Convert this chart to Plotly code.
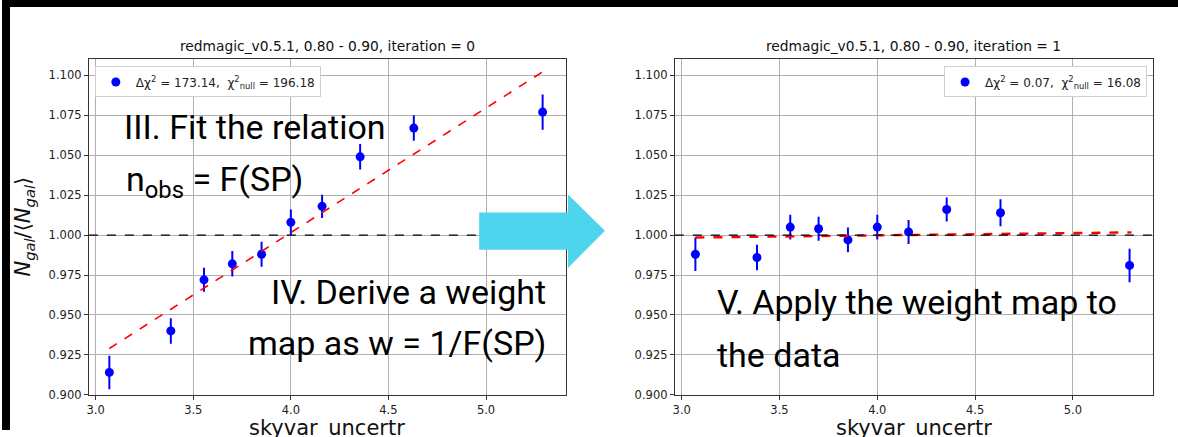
import plotly.graph_objects as go

W, H = 1178, 437

# ---- data ----
x_vals = [3.07, 3.385, 3.555, 3.70, 3.85, 4.0, 4.16, 4.355, 4.63, 5.29]
y_iter0 = [0.914, 0.940, 0.972, 0.982, 0.988, 1.008, 1.018, 1.049, 1.067, 1.077]
err_iter0 = [0.0105, 0.008, 0.0075, 0.008, 0.0078, 0.008, 0.0073, 0.008, 0.008, 0.011]
y_iter1 = [0.988, 0.986, 1.005, 1.004, 0.997, 1.005, 1.002, 1.016, 1.014, 0.981]
err_iter1 = [0.0105, 0.008, 0.0078, 0.0075, 0.0078, 0.0078, 0.0075, 0.0075, 0.0085, 0.0105]
fit0_x = [3.07, 5.30]
fit0_y = [0.929, 1.103]
fit1_x = [3.07, 5.30]
fit1_y = [0.9985, 1.0017]
titles = ["redmagic_v0.5.1, 0.80 - 0.90, iteration = 0",
          "redmagic_v0.5.1, 0.80 - 0.90, iteration = 1"]
legend_texts = ["Δχ<sup>2</sup> = 173.14,  χ<sup>2</sup><sub>null</sub> = 196.18",
                "Δχ<sup>2</sup> = 0.07,  χ<sup>2</sup><sub>null</sub> = 16.08"]
x_ticks = [3.0, 3.5, 4.0, 4.5, 5.0]
y_ticks = [0.900, 0.925, 0.950, 0.975, 1.000, 1.025, 1.050, 1.075, 1.100]

K = 0.977  # vertical calibration

def px(x):
    return x / W

def py(y):
    return 1 - (y / K) / H

TICKFONT = dict(family="DejaVu Sans", size=11.5, color="#222")
BLUE = "#0000ff"

fig = go.Figure()

for i, (yv, ev, fx, fy, leg) in enumerate([
        (y_iter0, err_iter0, fit0_x, fit0_y, "legend"),
        (y_iter1, err_iter1, fit1_x, fit1_y, "legend2")]):
    xa = "x" if i == 0 else "x2"
    ya = "y" if i == 0 else "y2"
    fig.add_trace(go.Scatter(
        x=x_vals, y=yv, mode="markers", xaxis=xa, yaxis=ya,
        marker=dict(color=BLUE, size=9),
        error_y=dict(type="data", array=ev, color=BLUE, thickness=2, width=0),
        name=legend_texts[i], legend=leg, showlegend=True))
    fig.add_trace(go.Scatter(
        x=fx, y=fy, mode="lines", xaxis=xa, yaxis=ya,
        line=dict(color="red", dash="dash", width=1.6 if i == 0 else 2.4),
        showlegend=False))

ax_common = dict(
    showline=True, linecolor="#333", linewidth=1, mirror=True,
    showgrid=True, gridcolor="#b0b0b0", gridwidth=0.8,
    ticks="outside", ticklen=4, tickcolor="#333", tickfont=TICKFONT,
    zeroline=False,
)

xd1 = [px(87), px(565)]
xd2 = [px(674), px(1153)]
yd = [py(392), py(59)]

LFONT = dict(family="DejaVu Sans", size=12, color="#222")
fig.update_layout(
    width=W, height=H,
    margin=dict(l=0, r=0, t=0, b=0),
    paper_bgcolor="white", plot_bgcolor="white",
    xaxis=dict(domain=xd1, range=[2.965, 5.41], anchor="y",
               tickvals=x_ticks, tickformat=".1f", **ax_common),
    yaxis=dict(domain=yd, range=[0.9, 1.11], anchor="x",
               tickvals=y_ticks, tickformat=".3f", **ax_common),
    xaxis2=dict(domain=xd2, range=[2.965, 5.41], anchor="y2",
                tickvals=x_ticks, tickformat=".1f", **ax_common),
    yaxis2=dict(domain=yd, range=[0.9, 1.11], anchor="x2",
                tickvals=y_ticks, tickformat=".3f", **ax_common),
    legend=dict(x=px(93), y=py(66), xanchor="left", yanchor="top",
                bgcolor="white", bordercolor="#d0d0d0", borderwidth=1,
                font=LFONT, itemwidth=30),
    legend2=dict(x=px(1147), y=py(66), xanchor="right", yanchor="top",
                 bgcolor="white", bordercolor="#d0d0d0", borderwidth=1,
                 font=LFONT, itemwidth=30),
    showlegend=True,
)

# horizontal reference lines at 1.0
for xr, yr in [("x domain", "y"), ("x2 domain", "y2")]:
    fig.add_shape(type="line", xref=xr, yref=yr, x0=0, x1=1, y0=1.0, y1=1.0,
                  line=dict(color="black", dash="dash", width=1.4), layer="above")

# titles
TFONT = dict(family="DejaVu Sans", size=13.8, color="#111")
fig.add_annotation(text=titles[0], x=(xd1[0] + xd1[1]) / 2, y=py(46), xref="paper",
                   yref="paper", showarrow=False, font=TFONT, xanchor="center", yanchor="middle")
fig.add_annotation(text=titles[1], x=(xd2[0] + xd2[1]) / 2, y=py(46), xref="paper",
                   yref="paper", showarrow=False, font=TFONT, xanchor="center", yanchor="middle")

# axis titles
AFONT = dict(family="DejaVu Sans", size=21, color="#111")
fig.add_annotation(text="skyvar_uncertr", x=(xd1[0] + xd1[1]) / 2, y=py(425), xref="paper",
                   yref="paper", showarrow=False, font=AFONT, xanchor="center", yanchor="middle")
fig.add_annotation(text="skyvar_uncertr", x=(xd2[0] + xd2[1]) / 2, y=py(425), xref="paper",
                   yref="paper", showarrow=False, font=AFONT, xanchor="center", yanchor="middle")
fig.add_annotation(text="<i>N</i><sub><i>gal</i></sub>/⟨<i>N</i><sub><i>gal</i></sub>⟩",
                   x=px(22), y=py(225), xref="paper", yref="paper", showarrow=False,
                   textangle=-90, font=AFONT, xanchor="center", yanchor="middle")

# big slide texts
BFONT = dict(family="Roboto, sans-serif", size=34, color="black")
big = [
    ("III. Fit the relation", 120, 126, "left"),
    ("n<sub>obs</sub> = F(SP)", 122, 180, "left"),
    ("IV. Derive a weight", 547, 290, "right"),
    ("map as w = 1/F(SP)", 547, 341, "right"),
    ("V. Apply the weight map to", 714, 300, "left"),
    ("the data", 714, 352, "left"),
]
for t, bx, by, anc in big:
    fig.add_annotation(text=t, x=px(bx), y=py(by), xref="paper", yref="paper",
                       showarrow=False, font=BFONT, xanchor=anc, yanchor="middle")

# black slide border
fig.add_shape(type="rect", xref="paper", yref="paper", x0=0, x1=1, y0=py(7), y1=1,
              fillcolor="black", line_width=0, layer="above")
fig.add_shape(type="rect", xref="paper", yref="paper", x0=0, x1=px(8), y0=0, y1=1,
              fillcolor="black", line_width=0, layer="above")

# arrow
pts = [(478, 211), (567, 211), (567, 193), (604, 229), (567, 266), (567, 248), (478, 248)]
path = "M " + " L ".join(f"{px(a):.5f},{py(b):.5f}" for a, b in pts) + " Z"
fig.add_shape(type="path", xref="paper", yref="paper", path=path,
              fillcolor="#4dd5ee", line_width=0, layer="above")

fig.write_html("out.html")
